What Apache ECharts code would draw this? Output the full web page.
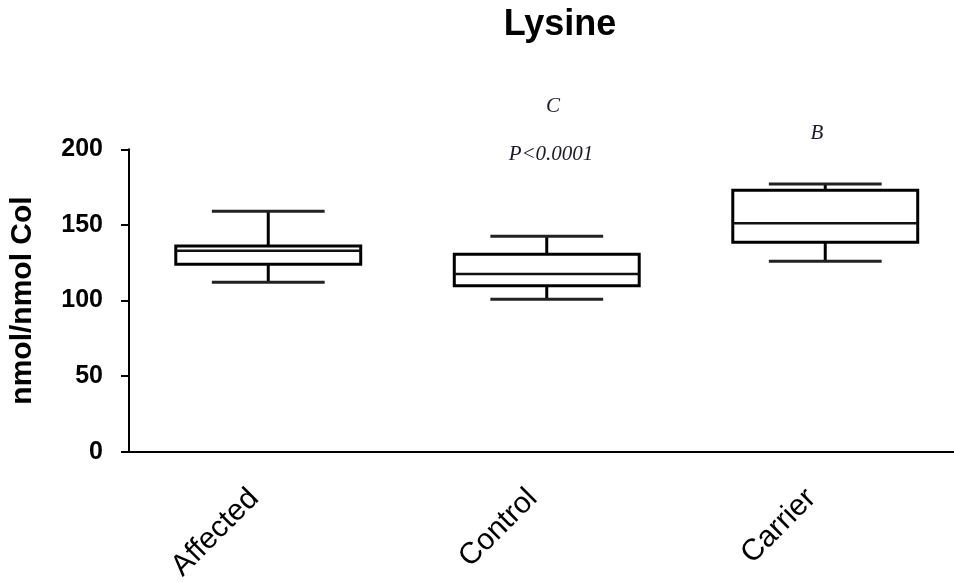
<!DOCTYPE html>
<html>
<head>
<meta charset="utf-8">
<script src="https://cdn.jsdelivr.net/npm/echarts@6/dist/echarts.min.js"></script>
<style>
html,body{margin:0;padding:0;background:#fff;}
#chart{width:954px;height:582px;}
</style>
</head>
<body>
<div id="chart"></div>
<script>
// ---- data ----
const categories = ['Affected', 'Control', 'Carrier'];
const whiskerLow  = [112.0, 100.8, 125.9];
const quartile1   = [123.9, 109.8, 138.5];
const medians     = [132.9, 117.5, 151.1];
const quartile3   = [136.0, 130.6, 172.9];
const whiskerHigh = [159.0, 142.5, 177.0];
const yTicks = { min: 0, max: 200, interval: 50 };
const chartTitle = 'Lysine';
const yAxisTitle = 'nmol/nmol Col';
const annotations = [
  { text: 'C', x: 553, y: 106 },
  { text: 'P<0.0001', x: 551, y: 154 },
  { text: 'B', x: 817, y: 133 }
];

const boxData = categories.map((c, i) => [i, whiskerLow[i], quartile1[i], medians[i], quartile3[i], whiskerHigh[i]]);

const chart = echarts.init(document.getElementById('chart'), null, { renderer: 'canvas' });

function renderBox(params, api) {
  const idx = api.value(0);
  const pLow = api.coord([idx, api.value(1)]);
  const pQ1 = api.coord([idx, api.value(2)]);
  const pMed = api.coord([idx, api.value(3)]);
  const pQ3 = api.coord([idx, api.value(4)]);
  const pHigh = api.coord([idx, api.value(5)]);
  const band = api.size([1, 0])[0];
  const cx = pMed[0];
  const bw = band * 0.664;
  const cw = band * 0.405;
  const black = '#000';
  return {
    type: 'group',
    children: [
      { type: 'line', shape: { x1: cx, y1: pHigh[1], x2: cx, y2: pQ3[1] }, style: { stroke: black, lineWidth: 3 } },
      { type: 'line', shape: { x1: cx, y1: pQ1[1], x2: cx, y2: pLow[1] }, style: { stroke: black, lineWidth: 3 } },
      { type: 'line', shape: { x1: cx - cw / 2, y1: pHigh[1], x2: cx + cw / 2, y2: pHigh[1] }, style: { stroke: '#222', lineWidth: 3 } },
      { type: 'line', shape: { x1: cx - cw / 2, y1: pLow[1], x2: cx + cw / 2, y2: pLow[1] }, style: { stroke: '#222', lineWidth: 3 } },
      { type: 'rect', shape: { x: cx - bw / 2, y: pQ3[1], width: bw, height: pQ1[1] - pQ3[1] }, style: { fill: '#fff', stroke: black, lineWidth: 3 } },
      { type: 'line', shape: { x1: cx - bw / 2, y1: pMed[1], x2: cx + bw / 2, y2: pMed[1] }, style: { stroke: '#111', lineWidth: 2.5 } }
    ]
  };
}

const option = {
  backgroundColor: '#fff',
  animation: false,
  title: {
    text: chartTitle,
    left: 555,
    top: 2,
    textAlign: 'center',
    textStyle: { fontFamily: 'Liberation Sans, Arial, sans-serif', fontWeight: 'bold', fontSize: 36, color: '#000' }
  },
  grid: { left: 129, top: 149.3, width: 835.5, bottom: 130.3, containLabel: false, outerBoundsMode: 'none' },
  xAxis: {
    type: 'category',
    data: categories,
    axisLine: { show: true, lineStyle: { color: '#000', width: 2 } },
    axisTick: { show: false },
    axisLabel: {
      rotate: 45,
      margin: 28,
      padding: [0, 20, 0, 0],
      fontFamily: 'Liberation Sans, Arial, sans-serif',
      fontSize: 30,
      color: '#000'
    },
    splitLine: { show: false }
  },
  yAxis: {
    type: 'value',
    min: yTicks.min,
    max: yTicks.max,
    interval: yTicks.interval,
    name: yAxisTitle,
    nameLocation: 'middle',
    nameGap: 91,
    nameTextStyle: { fontFamily: 'Liberation Sans, Arial, sans-serif', fontWeight: 'bold', fontSize: 30, color: '#000' },
    axisLine: { show: true, lineStyle: { color: '#000', width: 2 } },
    axisTick: { show: true, length: 8, lineStyle: { color: '#000', width: 2 } },
    axisLabel: { margin: 26, fontFamily: 'Liberation Sans, Arial, sans-serif', fontWeight: 'bold', fontSize: 25, color: '#000' },
    splitLine: { show: false }
  },
  graphic: annotations.map(a => ({
    type: 'text',
    x: a.x,
    y: a.y,
    style: {
      text: a.text,
      align: 'center',
      verticalAlign: 'middle',
      fontFamily: 'Liberation Serif, Times New Roman, serif',
      fontStyle: 'italic',
      fontSize: 21,
      fill: '#1a1a2a'
    }
  })),
  series: [{
    type: 'custom',
    renderItem: renderBox,
    encode: { x: 0, y: [1, 2, 3, 4, 5] },
    data: boxData,
    clip: false
  }]
};
chart.setOption(option);
</script>
</body>
</html>
